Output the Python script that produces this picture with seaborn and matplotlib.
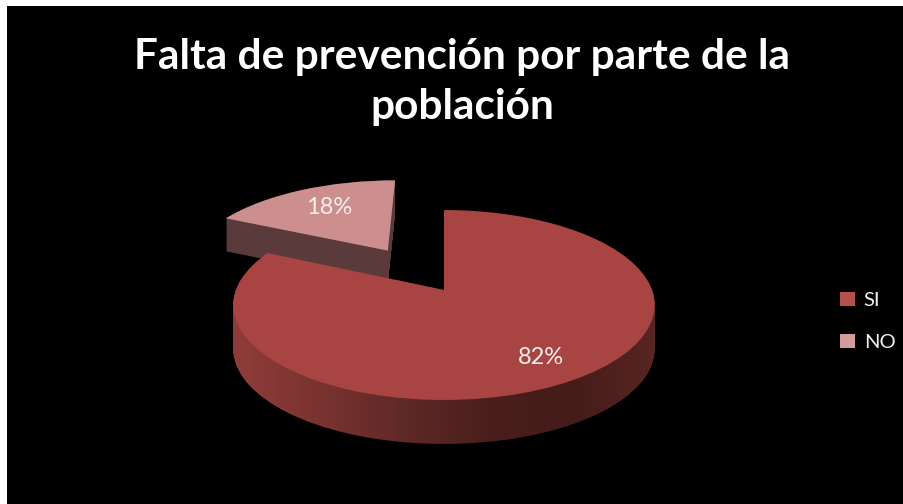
import numpy as np
import matplotlib
matplotlib.use("Agg")
import matplotlib.pyplot as plt
import seaborn as sns
from matplotlib.colors import LinearSegmentedColormap
from matplotlib.patches import PathPatch
from matplotlib.path import Path
from matplotlib.transforms import Transform

categories = ["SI", "NO"]
values = [82, 18]
explode = [0, 0.54]
title_text = "Falta de prevención por parte de la\npoblación"

top_colors = ["#a84542", "#cd8f8e"]
legend_colors = ["#b5504d", "#d59a9a"]
no_side = "#5a3a3b"
si_side_stops = ["#8f3d3a", "#7a3330", "#5f2927", "#4a1e1c", "#451c1a", "#5a2622"]

sns.set_theme(style="dark", palette=sns.color_palette(top_colors))
plt.rcParams["font.family"] = ["Lato", "DejaVu Sans"]

CX, CY, B, A, K = 444.0, 290.0, 208.0, 92.6, 0.158
SI_DEPTH, NO_DEPTH = 44, 33


class Persp(Transform):
    input_dims = output_dims = 2
    is_separable = False
    has_inverse = False

    def transform_non_affine(self, values):
        v = np.asarray(values, dtype=float)
        w = 1 + K * v[:, 1]
        return np.column_stack([CX + B * v[:, 0] / w, CY - A * v[:, 1] / w])


def extruded(path, depth):
    base = Persp().transform_path_non_affine(path)
    parts = []
    for d in range(0, depth + 1):
        parts.append(Path(base.vertices + [0, d], base.codes))
    return Path.make_compound_path(*parts)


fig = plt.figure(figsize=(9.04, 5.04), dpi=100, facecolor="white")
ax = fig.add_axes([7 / 904, 0, 897 / 904, 498 / 504], facecolor="black")

wedges, texts, autotexts = ax.pie(
    values, explode=explode, colors=top_colors, startangle=90, counterclock=False,
    autopct="%d%%", wedgeprops=dict(linewidth=0),
    textprops=dict(color="#f4eeee", fontsize=17),
)
si, no = wedges
to_screen = Persp() + ax.transData
si_path, no_path = si.get_path(), no.get_path()
for w in wedges:
    w.set_transform(to_screen)
no.set_zorder(3)
si.set_zorder(6)

ax.add_patch(PathPatch(extruded(no_path, NO_DEPTH), facecolor=no_side, lw=0, zorder=2))

cmap = LinearSegmentedColormap.from_list("rim", si_side_stops)
im = ax.imshow(np.linspace(0, 1, 256).reshape(1, -1), cmap=cmap, aspect="auto",
               extent=[CX - 212, CX + 216, 480, 280], interpolation="bilinear", zorder=5)
im.set_clip_path(extruded(si_path, SI_DEPTH), ax.transData)

autotexts[0].set_position((541, 358))
autotexts[1].set_position((329, 208))
for t in autotexts:
    t.set_ha("center")
    t.set_va("center")
    t.set_zorder(8)

ax.set_axis_on()
ax.set_frame_on(True)
ax.set_facecolor("black")
ax.set_aspect("auto")
ax.set_xlim(7, 904)
ax.set_ylim(504, 6)
ax.set_xticks([])
ax.set_yticks([])
ax.grid(False)
for s in ax.spines.values():
    s.set_visible(False)

ax.text(462, 82, title_text, color="white", fontsize=30.5, fontweight="bold",
        ha="center", va="center", linespacing=1.39)

handles = [plt.Rectangle((0, 0), 1, 1, facecolor=c, lw=0) for c in legend_colors]
leg = ax.legend(handles, categories, loc="center left", bbox_to_anchor=(0.908, 0.367),
                frameon=False, fontsize=14.5, labelcolor="#f0f0f0", handlelength=0.75,
                handleheight=0.75, handletextpad=0.45, labelspacing=1.22)

fig.savefig("out.png", dpi=100, facecolor="white")
